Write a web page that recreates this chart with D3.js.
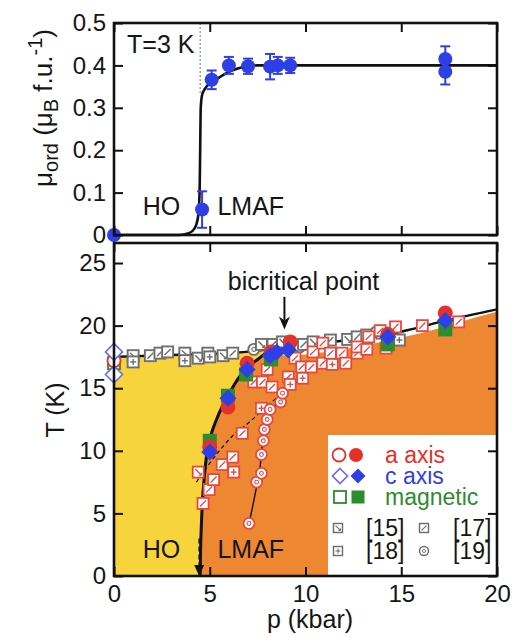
<!DOCTYPE html>
<html>
<head>
<meta charset="utf-8">
<script src="https://cdn.jsdelivr.net/npm/d3@7"></script>
<style>
  body { margin: 0; background: #fff; }
  svg { display: block; }
  text { font-family: "Liberation Sans", Arial, sans-serif; fill: #151515; }
</style>
</head>
<body>
<svg id="chart" width="522" height="637"></svg>
<script>
// ---------- axis ticks ----------
const pressureTicks = [0, 5, 10, 15, 20];
const momentTicks = [0, 0.1, 0.2, 0.3, 0.4, 0.5];
const momentTickLabels = ["0", "0.1", "0.2", "0.3", "0.4", "0.5"];
const temperatureTicks = [0, 5, 10, 15, 20, 25];
const temperatureTickLabels = ["0", "5", "10", "15", "20", "25"];

// ---------- upper panel: ordered moment at T = 3 K ----------
const momentPressure = [0, 4.6, 5.1, 6.0, 7.0, 8.15, 8.55, 9.2, 17.3, 17.3];
const momentValue    = [0, 0.06, 0.366, 0.40, 0.398, 0.397, 0.40, 0.40, 0.415, 0.385];
const momentError    = [0, 0.043, 0.022, 0.02, 0.018, 0.03, 0.02, 0.018, 0.03, 0.03];
const momentCurve = [[0, 0], [3.4, 0], [3.9, 0.004], [4.2, 0.015], [4.38, 0.04], [4.47, 0.1],
  [4.5, 0.2], [4.53, 0.3], [4.6, 0.33], [4.75, 0.345], [5.2, 0.362], [5.8, 0.38],
  [6.5, 0.393], [7.5, 0.4], [20, 0.4]];
const hoLmafPressure = 4.5;

// ---------- lower panel: phase boundaries ----------
const upperTransitionLine = [[0, 17.5], [2, 17.6], [4, 17.7], [6, 17.8], [7.5, 18.0], [8.9, 18.3],
  [10.5, 18.55], [12.3, 18.85], [14, 19.2], [15.5, 19.7], [17.3, 20.4], [20, 21.3]];
const hoLmafBoundary = [[4.5, 0], [4.52, 2], [4.56, 4], [4.62, 6], [4.72, 8], [4.85, 9.8],
  [5.05, 11.2], [5.3, 12.3], [5.7, 13.7], [6.1, 14.8], [6.5, 15.8], [7.0, 16.7], [7.5, 17.3],
  [8.1, 17.95], [8.9, 18.3]];
const lmafUpperEdge = [[7.5, 17.3], [8.5, 17.6], [10, 17.7], [11.5, 18.0], [13, 18.4], [14.5, 18.9],
  [16, 19.4], [17.5, 20.0], [19, 20.7], [20, 21.1]];
const ref19Line = [[7.05, 4.2], [7.3, 6.0], [7.5, 7.6], [7.65, 9.0], [7.75, 10.5], [7.85, 11.7],
  [8.05, 12.8], [8.4, 13.6], [8.8, 14.6], [9.3, 15.4]];
const dashedBoundary = [[4.3, 7.5], [4.9, 8.8], [5.5, 10.0], [6.2, 11.2], [7.0, 12.2], [7.8, 13.3],
  [8.7, 14.5], [9.6, 15.6]];
const bicriticalPressure = 8.9;

// ---------- lower panel: transition points ----------
const aAxisOpen = [[0, 17.2]];
const aAxisFilled = [[5.0, 10.3], [5.95, 13.5], [6.95, 17.0], [8.2, 17.9], [9.2, 18.7], [14.3, 19.3], [17.3, 21.0]];
const cAxisOpen = [[0, 17.9], [0, 16.1]];
const cAxisFilled = [[5.0, 9.9], [5.95, 14.2], [6.95, 16.5], [8.15, 17.6], [8.5, 17.9], [9.1, 18.05], [14.3, 19.1], [17.3, 20.4]];
const magneticOpen = [[0, 17.0]];
const magneticFilled = [[5.0, 10.8], [5.95, 14.4], [6.9, 16.1], [8.2, 17.3], [14.3, 18.5], [17.3, 19.7]];

// HO transitions from refs [15], [17], [18], [19]
const hoRefPressure = [1.0, 1.0, 1.9, 2.4, 2.8, 3.7, 3.7, 4.4, 4.9, 5.0, 5.7, 6.2, 7.3, 7.7, 8.3, 8.8,
  9.7, 9.9, 10.4, 11.3, 12.2, 12.7, 13.2, 13.7, 14.0, 14.9];
const hoRefTemperature = [17.6, 17.1, 17.6, 17.8, 17.9, 17.8, 17.2, 17.4, 17.8, 17.5, 17.6, 17.8, 18.1,
  18.5, 18.5, 18.7, 18.3, 18.5, 18.7, 18.85, 18.9, 19.1, 19.25, 19.5, 19.4, 18.85];
const hoRefSource = ["15", "18", "17", "17", "17", "15", "18", "15", "17", "18", "15", "17", "19", "15",
  "17", "15", "19", "17", "15", "17", "15", "17", "15", "19", "17", "18"];

// LMAF transitions from refs [15], [17], [18], [19]
const lmafRefPressure = [4.4, 4.65, 4.97, 5.2, 5.65, 6.2, 6.25, 6.7, 7.3, 7.75, 7.7, 8.0, 8.25, 9.1, 9.2,
  9.45, 9.85, 9.8, 10.3, 10.4, 10.9, 10.9, 11.3, 11.4, 11.9, 12.1, 12.7, 12.7, 13.2, 13.3, 13.9, 14.2,
  14.7, 16.1, 18.0,
  7.05, 7.45, 7.7, 7.7, 7.8, 7.85, 8.0, 8.15, 8.7, 8.8];
const lmafRefTemperature = [8.3, 5.8, 6.9, 7.7, 8.9, 9.5, 8.3, 11.4, 15.5, 15.5, 13.4, 16.5, 15.1, 15.9,
  15.3, 17.4, 15.8, 16.7, 16.7, 17.9, 18.6, 17.0, 17.8, 16.9, 17.8, 17.0, 17.8, 18.3, 18.1, 19.1, 19.6,
  18.2, 19.9, 20.0, 20.3,
  4.2, 7.5, 8.2, 9.7, 10.8, 11.7, 12.5, 13.3, 13.9, 14.6];
const lmafRefSource = ["15", "17", "17", "17", "17", "17", "18", "17", "17", "17", "18", "17", "17", "17",
  "18", "17", "18", "17", "17", "17", "17", "17", "17", "18", "17", "17", "17", "17", "17", "17", "17",
  "18", "17", "17", "17",
  "19", "19", "19", "19", "19", "19", "19", "19", "19", "19"];

const legendSeries = ["a axis", "c axis", "magnetic"];
const legendRefs = ["15", "17", "18", "19"];

// ---------- colours ----------
const HO_YELLOW = "#f8d43c";
const LMAF_ORANGE = "#ee8731";
const RED = "#e8302a";
const BLUE = "#2f3fe6";
const GREEN = "#2e8b2e";
const GRAY = "#6f6f6f";
const PINK_RED = "#e8483e";

const svg = d3.select("#chart");
const FONT = 25;

// ---------- scales ----------
const xTop = d3.scaleLinear().domain([0, 20]).range([114, 497]);
const yTop = d3.scaleLinear().domain([0, 0.5]).range([235, 23]);
const xBot = d3.scaleLinear().domain([0, 20]).range([114, 497]);
const yBot = d3.scaleLinear().domain([0, 26.6]).range([576, 243]);

function styleAxis(g, showLabels) {
  g.select(".domain").remove();
  g.selectAll(".tick line").attr("stroke", "#111").attr("stroke-width", 2);
  g.attr("font-family", null).attr("font-size", null);
  g.selectAll(".tick text").style("font-size", "24px").attr("fill", "#151515");
  if (!showLabels) g.selectAll(".tick text").remove();
}

function frame(xs, ys) {
  svg.append("rect")
    .attr("x", xs.range()[0]).attr("y", ys.range()[1])
    .attr("width", xs.range()[1] - xs.range()[0])
    .attr("height", ys.range()[0] - ys.range()[1])
    .attr("fill", "none").attr("stroke", "#111").attr("stroke-width", 2.6);
}

function axesFor(xs, ys, yTicks, yLabels, xLabels) {
  const T = 9;
  svg.append("g").attr("transform", `translate(${xs.range()[0]},0)`)
    .call(d3.axisLeft(ys).tickValues(yTicks).tickSizeInner(-T).tickSizeOuter(0).tickPadding(8)
      .tickFormat((d, i) => yLabels[i]))
    .call(g => styleAxis(g, true));
  svg.append("g").attr("transform", `translate(${xs.range()[1]},0)`)
    .call(d3.axisRight(ys).tickValues(yTicks).tickSizeInner(-T).tickSizeOuter(0))
    .call(g => styleAxis(g, false));
  svg.append("g").attr("transform", `translate(0,${ys.range()[1]})`)
    .call(d3.axisTop(xs).tickValues(pressureTicks).tickSizeInner(-T).tickSizeOuter(0))
    .call(g => styleAxis(g, false));
  svg.append("g").attr("transform", `translate(0,${ys.range()[0]})`)
    .call(d3.axisBottom(xs).tickValues(pressureTicks).tickSizeInner(-T).tickSizeOuter(0).tickPadding(9)
      .tickFormat(d3.format("d")))
    .call(g => styleAxis(g, xLabels));
}

// ================= upper panel =================
const topPanel = svg.append("g");

// HO/LMAF pressure marker
topPanel.append("line")
  .attr("x1", xTop(hoLmafPressure)).attr("x2", xTop(hoLmafPressure))
  .attr("y1", yTop(0.5)).attr("y2", yTop(0.335))
  .attr("stroke", "#888").attr("stroke-width", 1.2).attr("stroke-dasharray", "2,2");

topPanel.append("path")
  .attr("d", d3.line().x(d => xTop(d[0])).y(d => yTop(d[1])).curve(d3.curveMonotoneX)(momentCurve))
  .attr("fill", "none").attr("stroke", "#111").attr("stroke-width", 2.6);

const momentData = momentPressure.map((p, i) => ({ p, m: momentValue[i], e: momentError[i] }));
const eb = topPanel.append("g").attr("stroke", BLUE).attr("stroke-width", 2);
momentData.filter(d => d.e > 0).forEach(d => {
  const x = xTop(d.p);
  eb.append("line").attr("x1", x).attr("x2", x).attr("y1", yTop(d.m - d.e)).attr("y2", yTop(d.m + d.e));
  eb.append("line").attr("x1", x - 5).attr("x2", x + 5).attr("y1", yTop(d.m - d.e)).attr("y2", yTop(d.m - d.e));
  eb.append("line").attr("x1", x - 5).attr("x2", x + 5).attr("y1", yTop(d.m + d.e)).attr("y2", yTop(d.m + d.e));
});
topPanel.selectAll("circle.moment").data(momentData).join("circle")
  .attr("class", "moment")
  .attr("cx", d => xTop(d.p)).attr("cy", d => yTop(d.m)).attr("r", 7)
  .attr("fill", BLUE);

topPanel.append("text").attr("x", xTop(0.68)).attr("y", yTop(0.43)).style("font-size", FONT + "px").text("T=3 K");
topPanel.append("text").attr("x", xTop(1.5)).attr("y", yTop(0.047)).style("font-size", FONT + "px").text("HO");
topPanel.append("text").attr("x", xTop(5.4)).attr("y", yTop(0.047)).style("font-size", FONT + "px").text("LMAF");

frame(xTop, yTop);
axesFor(xTop, yTop, momentTicks, momentTickLabels, false);

// y label: μ_ord (μ_B f.u.^-1)
const yl = svg.append("text")
  .attr("transform", `translate(52,108) rotate(-90)`)
  .attr("text-anchor", "middle")
  .style("font-size", "26px");
yl.append("tspan").text("μ");
yl.append("tspan").attr("dy", 6).style("font-size", "20px").text("ord");
yl.append("tspan").attr("dy", -6).text(" (μ");
yl.append("tspan").attr("dy", 6).style("font-size", "20px").text("B");
yl.append("tspan").attr("dy", -6).text(" f.u.");
yl.append("tspan").attr("dy", -10).style("font-size", "20px").text("-1");
yl.append("tspan").attr("dy", 10).text(")");

// ================= lower panel =================
const botPanel = svg.append("g");
const lineB = d3.line().x(d => xBot(d[0])).y(d => yBot(d[1])).curve(d3.curveMonotoneX);

// HO region: below the upper transition line, up to the bicritical point
const hoTop = upperTransitionLine.filter(d => d[0] <= bicriticalPressure);
botPanel.append("path")
  .attr("d", lineB(hoTop) + `L${xBot(bicriticalPressure)},${yBot(0)}L${xBot(0)},${yBot(0)}Z`)
  .attr("fill", HO_YELLOW);

// LMAF region: right of the HO–LMAF boundary, below its upper edge
const lmafOutline = hoLmafBoundary.filter(d => d[0] <= lmafUpperEdge[0][0]).concat(lmafUpperEdge.slice(1));
botPanel.append("path")
  .attr("d", lineB(lmafOutline) + `L${xBot(20)},${yBot(0)}L${xBot(hoLmafBoundary[0][0])},${yBot(0)}Z`)
  .attr("fill", LMAF_ORANGE);

// legend background
botPanel.append("rect")
  .attr("x", 328).attr("y", 435).attr("width", xBot(20) - 328).attr("height", yBot(0) - 435)
  .attr("fill", "#fff");

// boundary lines
botPanel.append("path").attr("d", lineB(dashedBoundary))
  .attr("fill", "none").attr("stroke", "#111").attr("stroke-width", 1.2).attr("stroke-dasharray", "4,3");
botPanel.append("path").attr("d", lineB(ref19Line))
  .attr("fill", "none").attr("stroke", "#111").attr("stroke-width", 1.4);
botPanel.append("path").attr("d", lineB(upperTransitionLine))
  .attr("fill", "none").attr("stroke", "#111").attr("stroke-width", 2.4);
botPanel.append("path").attr("d", lineB(hoLmafBoundary))
  .attr("fill", "none").attr("stroke", "#111").attr("stroke-width", 3);

// reference markers
function refMarker(g, cx, cy, ref, color, s, sw) {
  const h = s / 2;
  if (ref === "19") {
    g.append("circle").attr("cx", cx).attr("cy", cy).attr("r", h)
      .attr("fill", "#fff").attr("stroke", color).attr("stroke-width", sw);
    g.append("circle").attr("cx", cx).attr("cy", cy).attr("r", h * 0.35)
      .attr("fill", "none").attr("stroke", color).attr("stroke-width", sw * 0.6);
    return;
  }
  g.append("rect").attr("x", cx - h).attr("y", cy - h).attr("width", s).attr("height", s)
    .attr("fill", "#fff").attr("stroke", color).attr("stroke-width", sw);
  const k = h * 0.55;
  const ln = (x1, y1, x2, y2) => g.append("line")
    .attr("x1", cx + x1).attr("y1", cy + y1).attr("x2", cx + x2).attr("y2", cy + y2)
    .attr("stroke", color).attr("stroke-width", sw * 0.75);
  if (ref === "15") { ln(-k, -k, k, k); ln(k * 0.2, k, k, k); ln(k, k * 0.2, k, k); }
  if (ref === "17") { ln(-k, k, k, -k); }
  if (ref === "18") { ln(-k, 0, k, 0); ln(0, -k, 0, k); }
}

const refLayer = botPanel.append("g");
hoRefPressure.forEach((p, i) =>
  refMarker(refLayer, xBot(p), yBot(hoRefTemperature[i]), hoRefSource[i], GRAY, 11, 1.9));
lmafRefPressure.forEach((p, i) =>
  refMarker(refLayer, xBot(p), yBot(lmafRefTemperature[i]), lmafRefSource[i], PINK_RED, 11, 1.8));

// main transition markers
const sq = 14, rc = 7.5, dm = 8.5;
function square(g, x, y, color, filled, size) {
  g.append("rect").attr("x", x - size / 2).attr("y", y - size / 2).attr("width", size).attr("height", size)
    .attr("fill", filled ? color : "#fff").attr("stroke", color).attr("stroke-width", filled ? 0 : 1.8);
}
function circle(g, x, y, color, filled, r) {
  g.append("circle").attr("cx", x).attr("cy", y).attr("r", r)
    .attr("fill", filled ? color : "#fff").attr("stroke", color).attr("stroke-width", filled ? 0 : 1.8);
}
function diamond(g, x, y, color, filled, d) {
  g.append("path").attr("d", `M${x},${y - d}L${x + d},${y}L${x},${y + d}L${x - d},${y}Z`)
    .attr("fill", filled ? color : "#fff").attr("stroke", color).attr("stroke-width", filled ? 0 : 1.6);
}
const mk = botPanel.append("g");
magneticOpen.forEach(d => square(mk, xBot(d[0]), yBot(d[1]), GREEN, false, sq - 2));
magneticFilled.forEach(d => square(mk, xBot(d[0]), yBot(d[1]), GREEN, true, sq));
aAxisOpen.forEach(d => circle(mk, xBot(d[0]), yBot(d[1]), RED, false, rc - 1));
aAxisFilled.forEach(d => circle(mk, xBot(d[0]), yBot(d[1]), RED, true, rc));
cAxisOpen.forEach(d => diamond(mk, xBot(d[0]), yBot(d[1]), "#6a6af0", false, dm));
cAxisFilled.forEach(d => diamond(mk, xBot(d[0]), yBot(d[1]), BLUE, true, dm));

// bicritical point annotation
const bx = xBot(bicriticalPressure);
botPanel.append("text").attr("x", xBot(9.9)).attr("y", yBot(22.85)).attr("text-anchor", "middle")
  .style("font-size", FONT + "px").text("bicritical point");
botPanel.append("line").attr("x1", bx).attr("x2", bx).attr("y1", yBot(22.3)).attr("y2", yBot(20.4))
  .attr("stroke", "#111").attr("stroke-width", 2);
botPanel.append("path")
  .attr("d", `M${bx},${yBot(19.7)}L${bx - 5.5},${yBot(19.7) - 13}L${bx},${yBot(19.7) - 9}L${bx + 5.5},${yBot(19.7) - 13}Z`)
  .attr("fill", "#111");

// arrow marking the HO–LMAF pressure at T = 0
const ax = xBot(hoLmafPressure) - 1;
botPanel.append("line").attr("x1", ax).attr("x2", ax).attr("y1", yBot(3.0)).attr("y2", yBot(0.6))
  .attr("stroke", "#111").attr("stroke-width", 1.5).attr("stroke-dasharray", "5,3");
botPanel.append("path")
  .attr("d", `M${ax},${yBot(0)}L${ax - 5},${yBot(0) - 11}L${ax + 5},${yBot(0) - 11}Z`)
  .attr("fill", "#111");

// region labels
botPanel.append("text").attr("x", xBot(1.5)).attr("y", yBot(1.45)).style("font-size", FONT + "px").text("HO");
botPanel.append("text").attr("x", xBot(5.4)).attr("y", yBot(1.45)).style("font-size", FONT + "px").text("LMAF");

// legend
const lg = svg.append("g");
const legendColors = [RED, BLUE, GREEN];
const legendRows = [455, 476, 497];
legendSeries.forEach((name, i) => {
  const y = legendRows[i];
  if (i === 0) { circle(lg, 339, y, RED, false, 6.5); circle(lg, 356, y, RED, true, 7); }
  if (i === 1) { diamond(lg, 340, y, "#6a6af0", false, 7.5); diamond(lg, 358, y, BLUE, true, 7.5); }
  if (i === 2) { square(lg, 340, y, GREEN, false, 12); square(lg, 358, y, GREEN, true, 13); }
  lg.append("text").attr("x", 385).attr("y", y + 8).style("font-size", "23px")
    .style("fill", legendColors[i]).text(name);
});
const refPos = [[338, 528, 366], [424, 528, 453], [338, 551, 366], [424, 551, 453]];
legendRefs.forEach((ref, i) => {
  const [sx, sy, tx] = refPos[i];
  refMarker(lg, sx, sy, ref, "#6a6a6a", 9, 1.4);
  lg.append("text").attr("x", tx).attr("y", sy + 8).style("font-size", "23px").text(`[${ref}]`);
});

frame(xBot, yBot);
axesFor(xBot, yBot, temperatureTicks, temperatureTickLabels, true);

// axis titles
svg.append("text").attr("transform", "translate(64,410) rotate(-90)").attr("text-anchor", "middle")
  .style("font-size", FONT + "px").text("T (K)");
svg.append("text").attr("x", 310).attr("y", 628).attr("text-anchor", "middle")
  .style("font-size", FONT + "px").text("p (kbar)");
</script>
</body>
</html>
